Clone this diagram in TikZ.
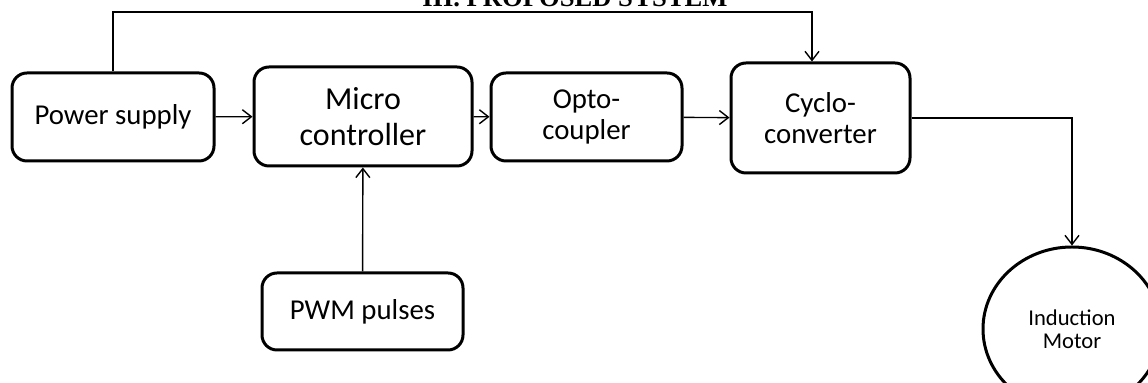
\documentclass[tikz,border=0pt]{standalone}
\usepackage{fontspec}
\setmainfont{Carlito}
\newfontfamily\titlefont{Liberation Serif}
\usetikzlibrary{shapes, arrows.meta, calc}

\tikzset{
  block/.style={draw, line width=1.5pt, rounded corners=7.5pt, align=center,
    inner sep=0pt, font=\fontsize{14.4}{15.2}\selectfont},
  wire/.style={line width=0.7pt},
}

\begin{document}
\begin{tikzpicture}[x=0.5pt, y=-0.5pt, >={Straight Barb[length=4.5pt,width=7pt]}]
\useasboundingbox (0,0) rectangle (1148,383);
\node[anchor=base, font=\titlefont\bfseries\fontsize{13.3}{14}\selectfont] at (575,7) (title) {III. PROPOSED SYSTEM};
\node[block, minimum width=101pt, minimum height=44pt] at (113,117) (ps) {Power supply};
\node[block, minimum width=109pt, minimum height=49.5pt,
  font=\fontsize{16}{18}\selectfont] at (363,116.5) (mc) {Micro\\controller};
\node[block, minimum width=95.5pt, minimum height=44pt] at (586.5,117) (oc) {Opto-\\coupler};
\node[block, minimum width=89.5pt, minimum height=55pt] at (820.5,118) (cc) {Cyclo-\\converter};
\node[block, minimum width=100.5pt, minimum height=38.5pt] at (362.5,311.5) (pwm) {PWM pulses};
\node[draw, ellipse, line width=1.5pt, minimum width=89pt, minimum height=82pt,
  inner sep=0pt, align=center, font=\fontsize{11.3}{11.7}\selectfont] at (1072,329) (im) {Induction\\Motor};
\coordinate (top) at (812,12);
\path (ps) edge[wire, ->] (mc);
\path (mc) edge[wire, ->] (oc);
\path (oc) edge[wire, ->] (cc);
\path (pwm) edge[wire, ->] (mc);
\draw[wire, ->] (ps.north) |- (top) -- (top |- cc.north);
\draw[wire, ->] (cc.east) -| (im.north);
\end{tikzpicture}
\end{document}
